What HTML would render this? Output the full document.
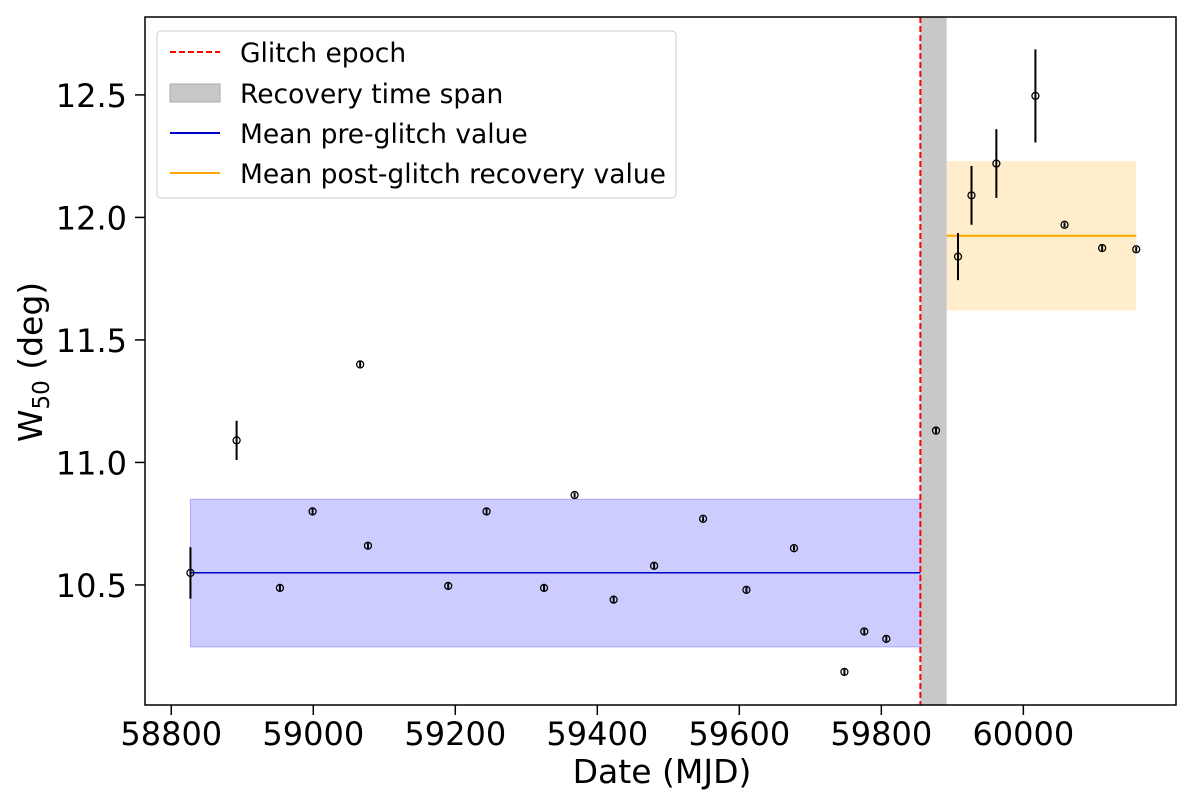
<!DOCTYPE html>
<html><head><meta charset="utf-8"><style>
body{margin:0;background:#fff}
svg text{font-family:"DejaVu Sans","Liberation Sans",sans-serif;fill:#000}
</style></head><body>
<svg id="chart" width="1200" height="797"></svg>
<script>
const dates=[58827,58892,58953,58999,59066,59077,59190,59244,59325,59368,59423,59480,59549,59610,59677,59748,59776,59807,59877,59908,59927,59962,60017,60058,60111,60159];
const w50=[10.549,11.09,10.488,10.80,11.40,10.66,10.496,10.80,10.488,10.867,10.44,10.578,10.77,10.48,10.65,10.145,10.31,10.28,11.13,11.84,12.09,12.22,12.496,11.97,11.875,11.87];
const errs=[0.105,0.08,0.012,0.012,0.012,0.015,0.012,0.012,0.012,0.01,0.012,0.012,0.01,0.012,0.01,0.012,0.012,0.012,0.012,0.096,0.12,0.14,0.19,0.01,0.012,0.01];
const xTicks=[58800,59000,59200,59400,59600,59800,60000];
const yTicks=[10.5,11.0,11.5,12.0,12.5];
const glitch=59855, recEnd=59892;
const preMean=10.55, preLo=10.247, preHi=10.85, preStart=58827;
const postMean=11.925, postLo=11.62, postHi=12.23, postEnd=60159;
const L=145,R=1176,T=17,B=705,x0=58763,x1=60215,y0=10.01,y1=12.818;
const X=v=>L+(v-x0)/(x1-x0)*(R-L), Y=v=>B-(v-y0)/(y1-y0)*(B-T);
const svg=document.getElementById('chart');const NS='http://www.w3.org/2000/svg';
function el(t,a,p){const e=document.createElementNS(NS,t);for(const k in a)e.setAttribute(k,a[k]);(p||svg).appendChild(e);return e;}
let e;
e=el('rect',{x:X(preStart),y:Y(preHi),width:X(glitch)-X(preStart),height:Y(preLo)-Y(preHi),fill:'#0000ff',opacity:0.2});

e=el('rect',{x:X(preStart),y:Y(preHi),width:X(glitch)-X(preStart),height:Y(preLo)-Y(preHi),fill:'none',stroke:'#0000ff','stroke-opacity':0.25});
e=el('rect',{x:X(recEnd),y:Y(postHi),width:X(postEnd)-X(recEnd),height:Y(postLo)-Y(postHi),fill:'#ffa500',opacity:0.2});

e=el('rect',{x:X(glitch),y:T,width:X(recEnd)-X(glitch),height:B-T,fill:'#c8c8c8'});

e=el('line',{x1:X(preStart),x2:X(glitch),y1:Y(preMean),y2:Y(preMean),stroke:'#0000cc','stroke-width':1.5});

e=el('line',{x1:X(recEnd),x2:X(postEnd),y1:Y(postMean),y2:Y(postMean),stroke:'#ffa500','stroke-width':2});

e=el('line',{x1:X(glitch),x2:X(glitch),y1:T,y2:B,stroke:'#ff0000','stroke-width':2,'stroke-dasharray':'6,3'});

dates.forEach((d,i)=>{
  const g=el('g',{});
  
  el('line',{x1:X(d),x2:X(d),y1:Y(w50[i]+errs[i]),y2:Y(w50[i]-errs[i]),stroke:'#000','stroke-width':2},g);
  el('circle',{cx:X(d),cy:Y(w50[i]),r:3.5,fill:'none',stroke:'#000','stroke-width':1.3},g);
});
e=el('rect',{x:L,y:T,width:R-L,height:B-T,fill:'none',stroke:'#000','stroke-width':1.5});

xTicks.forEach(v=>{
  el('line',{x1:X(v),x2:X(v),y1:B,y2:B+10,stroke:'#000','stroke-width':1.5});
  const t=el('text',{x:X(v),y:745,'font-size':32,'text-anchor':'middle'});t.textContent=v;
  
});
yTicks.forEach(v=>{
  el('line',{x1:L-10,x2:L,y1:Y(v),y2:Y(v),stroke:'#000','stroke-width':1.5});
  const t=el('text',{x:L-18,y:Y(v)+12,'font-size':32,'text-anchor':'end'});t.textContent=v.toFixed(1);
  
});
</script>
<svg style="position:absolute;left:0;top:0" width="1200" height="797">
<text x="662" y="783" font-size="33" text-anchor="middle">Date (MJD)</text>
<text transform="translate(42,362) rotate(-90)" font-size="33" text-anchor="middle">W<tspan font-size="23" dy="7">50</tspan><tspan dy="-7"> (deg)</tspan></text>
<g>
<rect x="157" y="31" width="519" height="167" rx="4" fill="#fff" fill-opacity="0.85" stroke="#ccc"/>
<line x1="170" x2="220" y1="52" y2="52" stroke="#f00" stroke-width="2" stroke-dasharray="6,3"/>
<text x="240" y="62" font-size="26.5">Glitch epoch</text>
<rect x="170" y="84" width="50" height="18" fill="#c8c8c8" stroke="#aaa"/>
<text x="240" y="103" font-size="26.5">Recovery time span</text>
<line x1="170" x2="220" y1="133" y2="133" stroke="#0000cc" stroke-width="2"/>
<text x="240" y="143" font-size="26.5">Mean pre-glitch value</text>
<line x1="170" x2="220" y1="173" y2="173" stroke="#ffa500" stroke-width="2"/>
<text x="240" y="183" font-size="26.5">Mean post-glitch recovery value</text>
</g>
</svg>
</body></html>
